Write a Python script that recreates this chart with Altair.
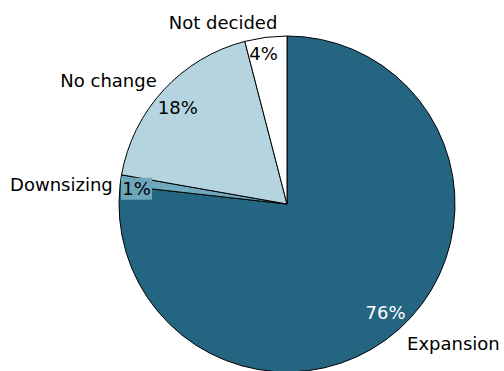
import altair as alt
import pandas as pd

# Survey answers, clockwise from twelve o'clock
categories = ["Expansion", "Downsizing", "No change", "Not decided"]
shares = [76, 1, 18, 4]
colors = ["#246682", "#70a9bd", "#b4d4df", "#ffffff"]

total = sum(shares)

# Geometry of the pie inside the plot area
W, H = 336, 334
CX, CY = W / 2, H / 2
RADIUS = 168
LABEL_R = 150

df = pd.DataFrame({
    "category": categories,
    "value": shares,
    "order": list(range(len(categories))),
})

theta_scale = alt.Scale(domain=[0, total])

base = (
    alt.Chart(df)
    .transform_window(cum="sum(value)", sort=[alt.SortField("order")], frame=[None, 0])
    .transform_calculate(
        start="datum.cum - datum.value",
        mid="datum.cum - datum.value / 2",
        pct="datum.value + '%'",
    )
)

arcs = base.mark_arc(radius=RADIUS, stroke="black", strokeWidth=1).encode(
    theta=alt.Theta("start:Q", scale=theta_scale, stack=None),
    theta2="cum:Q",
    color=alt.Color("category:N", scale=alt.Scale(domain=categories, range=colors), legend=None),
)

FONT = "DejaVu Sans"
SIZE = 18


def label(cat, field, radius, dx, dy, align, color="black"):
    return (
        base.transform_filter(alt.datum.category == cat)
        .mark_text(radius=radius, dx=dx, dy=dy, align=align, baseline="middle",
                   font=FONT, fontSize=SIZE, color=color)
        .encode(theta=alt.Theta("mid:Q", scale=theta_scale, stack=None), text=f"{field}:N")
    )


# Small tinted box behind the "1%" label of the thin slice
ang = f"(2 * PI * datum.mid / {total})"
box = (
    base.transform_filter(alt.datum.category == "Downsizing")
    .transform_calculate(
        bx=f"{CX} + {LABEL_R} * sin({ang}) - 2",
        by=f"{CY} - {LABEL_R} * cos({ang}) + 6",
    )
    .transform_calculate(
        bx1="datum.bx - 15.5", bx2="datum.bx + 15.5",
        by1="datum.by - 11", by2="datum.by + 11",
    )
    .mark_rect(color="#6ea6ba")
    .encode(
        x=alt.X("bx1:Q", scale=None),
        x2="bx2:Q",
        y=alt.Y("by1:Q", scale=None),
        y2="by2:Q",
    )
)

layers = [
    arcs,
    box,
    label("Expansion", "pct", LABEL_R, -1.5, -2, "center", "white"),
    label("Downsizing", "pct", LABEL_R, -2, 7, "center"),
    label("No change", "pct", LABEL_R, 1, 7, "center"),
    label("Not decided", "pct", LABEL_R, -4.5, 0, "center"),
    label("Expansion", "category", 180, 0, 7, "left"),
    label("Downsizing", "category", 175, -1, 6.5, "right"),
    label("No change", "category", 180, 2, 0, "right"),
    label("Not decided", "category", 181.5, -41, 0, "center"),
]

chart = (
    alt.layer(*layers)
    .properties(
        width=W,
        height=H,
        autosize=alt.AutoSizeParams(type="none"),
        padding={"left": 119, "top": 37, "right": 49, "bottom": 0},
        background="white",
    )
    .configure_view(stroke=None)
)

chart.save("out.html", embed_options={"renderer": "svg", "actions": False})
